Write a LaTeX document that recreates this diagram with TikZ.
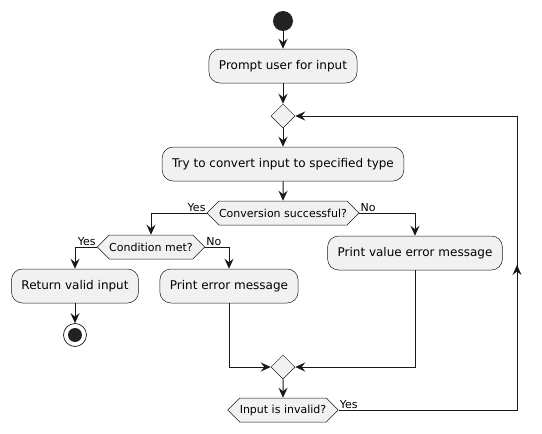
\documentclass[tikz,border=0pt]{standalone}
\usepackage{fontspec}
\setmainfont{DejaVu Sans}
\usetikzlibrary{arrows.meta,shapes.geometric,shapes.symbols}
\definecolor{umlfill}{HTML}{F1F1F1}
\definecolor{umlline}{HTML}{181818}
\definecolor{umldot}{HTML}{222222}

\begin{document}
\begin{tikzpicture}[x=1pt,y=-1pt,
    action/.style={draw=umlline,line width=0.5pt,fill=umlfill,rounded corners=11pt,
      minimum height=34pt,inner xsep=10pt,font=\fontsize{12}{14}\selectfont},
    branch/.style={draw=umlline,line width=0.5pt,fill=umlfill,shape=signal,
      signal to=east and west,signal pointer angle=90,minimum height=24pt,
      inner xsep=0pt,inner ysep=2pt,font=\fontsize{11}{13}\selectfont},
    merge/.style={draw=umlline,line width=0.5pt,fill=umlfill,diamond,
      minimum size=24pt,inner sep=0pt},
    flow/.style={line width=1pt,draw=umlline,-{Stealth[length=10pt,width=9pt,inset=3.5pt]}},
    guard/.style={font=\fontsize{11}{13}\selectfont,inner sep=1pt}]
    \useasboundingbox (0,0) rectangle (542,434);

    % nodes
    \node [circle,fill=umldot,minimum size=20pt,inner sep=0pt] (start) at (283,21) {};
    \node [action] (prompt) at (283,66) {Prompt user for input};
    \node [merge] (loop) at (283,116) {};
    \node [action] (convert) at (283,164) {Try to convert input to specified type};
    \node [branch] (conv) at (283,213) {Conversion successful?};
    \node [branch] (cond) at (151,247) {Condition met?};
    \node [action] (retval) at (75,286) {Return valid input};
    \node [action] (printerr) at (229,286) {Print error message};
    \node [action] (valerr) at (415,253) {Print value error message};
    \node [circle,draw=umlline,line width=0.7pt,fill=white,minimum size=23pt,inner sep=0pt] (stop) at (75,335) {};
    \node [circle,fill=umldot,minimum size=14pt,inner sep=0pt] at (stop) {};
    \node [merge] (join) at (283,367) {};
    \node [branch] (invalid) at (283,410) {Input is invalid?};
    \coordinate (back) at (517,410);
    \coordinate (backmid) at (517,265);
    \coordinate (backtop) at (517,116);

    % flows
    \draw [flow] (start) -- (prompt);
    \draw [flow] (prompt) -- (loop);
    \draw [flow] (loop) -- (convert);
    \draw [flow] (convert) -- (conv);
    \draw [flow] (conv.west) -| (cond);
    \draw [flow] (conv.east) -| (valerr);
    \draw [flow] (cond.west) -| (retval);
    \draw [flow] (cond.east) -| (printerr);
    \draw [flow] (retval) -- (stop);
    \draw [flow] (printerr) |- (join);
    \draw [flow] (valerr) |- (join);
    \draw [flow] (join) -- (invalid);
    \draw [flow] (invalid.east) -- (back) -- (backtop) -- (loop.east);
    \draw [flow] (back) -- (backmid);

    % guards
    \node [guard,anchor=south east] at (conv.west) {Yes};
    \node [guard,anchor=south west] at (conv.east) {No};
    \node [guard,anchor=south east] at (cond.west) {Yes};
    \node [guard,anchor=south west] at (cond.east) {No};
    \node [guard,anchor=south west] at (invalid.east) {Yes};
\end{tikzpicture}
\end{document}
